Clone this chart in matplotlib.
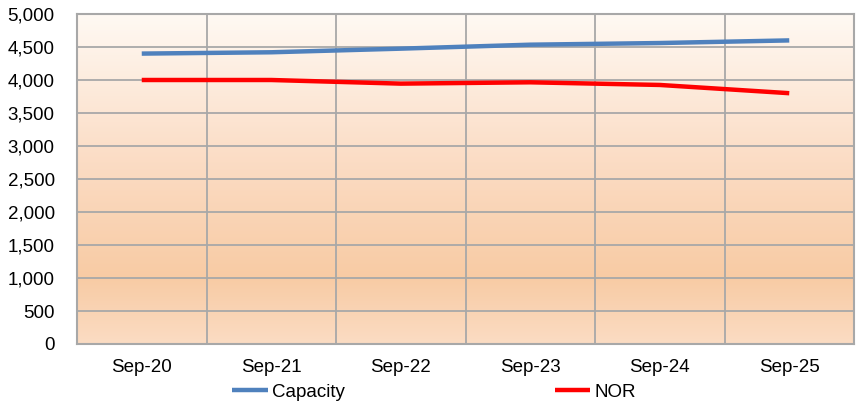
import numpy as np
import matplotlib
matplotlib.use("Agg")
from matplotlib import pyplot as plt
from matplotlib.colors import LinearSegmentedColormap

plt.rcParams['font.family'] = ['Liberation Sans', 'DejaVu Sans']

# values
periods = ["Sep-20", "Sep-21", "Sep-22", "Sep-23", "Sep-24", "Sep-25"]
capacity = [4400, 4420, 4475, 4535, 4560, 4600]
nor = [4000, 4000, 3945, 3965, 3925, 3800]

fig = plt.figure(figsize=(8.61, 4.05), dpi=100)
ax = fig.add_axes([77 / 861, 1 - 344 / 405, (854 - 77) / 861, (344 - 14) / 405])

x = np.arange(len(periods))
ax.set_xlim(-0.5, len(periods) - 0.5)
ax.set_ylim(0, 5000)

# peach gradient background (white on top, deepest near the bottom)
grad = LinearSegmentedColormap.from_list(
    "peach",
    [(0.0, "#fbdcc3"), (0.2, "#f8cba4"), (0.55, "#fbdcc4"), (1.0, "#fff9f3")])
ax.imshow(np.linspace(0, 1, 256).reshape(-1, 1), cmap=grad, aspect="auto",
          extent=(-0.5, len(periods) - 0.5, 0, 5000), origin="lower", zorder=0)

grid_col = "#a8a8a8"
for v in range(0, 5001, 500):
    ax.axhline(v, color=grid_col, lw=1.3, zorder=1)
for b in np.arange(-0.5, len(periods), 1):
    ax.axvline(b, color=grid_col, lw=1.3, zorder=1)
for s in ax.spines.values():
    s.set_color(grid_col)
    s.set_linewidth(1.5)

l1, = ax.plot(x, capacity, color="#4f81bd", lw=3.2, label="Capacity", zorder=3,
              solid_capstyle="butt")
l2, = ax.plot(x, nor, color="#ff0000", lw=3.2, label="NOR", zorder=3,
              solid_capstyle="butt")

ax.set_xticks(x)
ax.set_xticklabels(periods)
ax.set_yticks(range(0, 5001, 500))
ax.set_yticklabels([f"{v:,}" for v in range(0, 5001, 500)])
ax.tick_params(axis="both", length=0, labelsize=13.5, colors="black")
ax.tick_params(axis="y", pad=16)
ax.tick_params(axis="x", pad=11)

fig.legend(handles=[l1, l2], loc="center", ncol=2, frameon=False,
           bbox_to_anchor=(434 / 861, 1 - 392 / 405), fontsize=13.5,
           handlelength=1.9, handletextpad=0.2, columnspacing=11.2,
           borderpad=0, borderaxespad=0)

fig.savefig("out.png", dpi=100)
